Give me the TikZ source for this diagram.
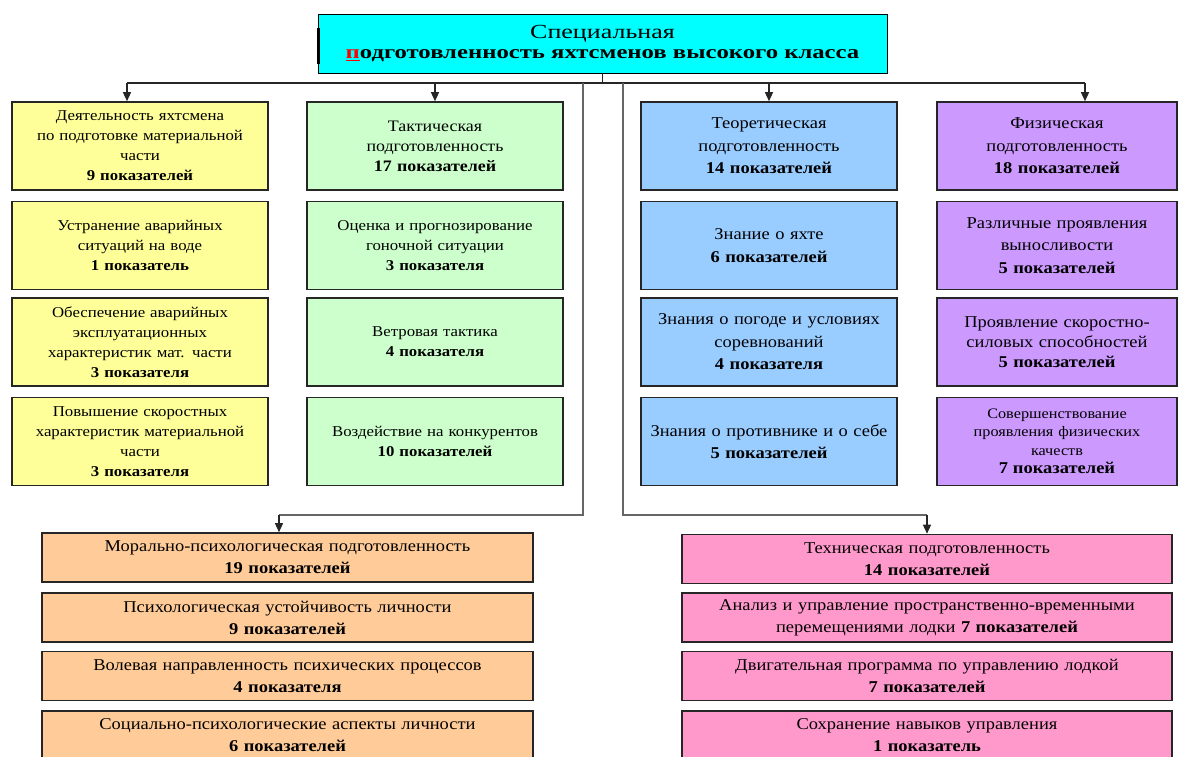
\documentclass[tikz,border=0pt]{standalone}
\usepackage{fontspec}
\setmainfont[FakeStretch=1.12]{Liberation Serif}
\newfontfamily\titlefont[FakeStretch=1.3]{Liberation Serif}
\usetikzlibrary{arrows.meta}
\definecolor{cyanbg}{HTML}{00FFFF}
\definecolor{yel}{HTML}{FFFF99}
\definecolor{grn}{HTML}{CCFFCC}
\definecolor{blu}{HTML}{99CCFF}
\definecolor{pur}{HTML}{CC99FF}
\definecolor{org}{HTML}{FFCC99}
\definecolor{pnk}{HTML}{FF99CC}
\begin{document}
\begin{tikzpicture}[x=1pt,y=-1pt,
  box/.style={draw=black!85, line width=1.6pt, align=center, inner sep=0pt, font=\fontsize{15}{20}\selectfont},
  ctop/.style={box, minimum width=256pt, minimum height=88pt, text width=252pt},
  rbox/.style={ctop, font=\fontsize{16.5}{22.5}\selectfont},
  pbox/.style={rbox, minimum width=240pt, text width=238pt},
  wide/.style={box, minimum width=491pt, minimum height=49pt, text width=487pt, font=\fontsize{16.5}{22}\selectfont},
  arr/.style={draw=black!85, line width=1.3pt, -{Triangle[length=9pt,width=8pt]}},
  conn/.style={draw=black!85, line width=1.3pt},
  gconn/.style={draw=black!60, line width=1.3pt},
]
\useasboundingbox (0,0) rectangle (1179,756);
\clip (0,0) rectangle (1179,756);

% title
\node[draw=black, line width=1pt, fill=cyanbg, minimum width=569pt, minimum height=59pt, align=center, inner sep=0pt,
  font=\titlefont\fontsize{20}{20.5}\selectfont] (title) at (602.5,43.5)
  {Специальная\\{\fontsize{19}{20}\selectfont\bfseries\textcolor{red}{\underline{п}}одготовленность яхтсменов высокого класса}};
\draw[line width=2.5pt] ([xshift=1pt,yshift=-14pt]title.north west) -- ([xshift=1pt,yshift=10pt]title.south west);

% column 1
\node[ctop, fill=yel] (a1) at (140,146) {Деятельность яхтсмена\\по подготовке материальной\\части\\\textbf{9 показателей}};
\node[ctop, fill=yel] (a2) at (140,245.5) {Устранение аварийных\\ситуаций на воде\\\textbf{1 показатель}};
\node[ctop, fill=yel] (a3) at (140,342) {Обеспечение аварийных\\эксплуатационных\\характеристик мат. части\\\textbf{3 показателя}};
\node[ctop, fill=yel] (a4) at (140,441.5) {Повышение скоростных\\характеристик материальной\\части\\\textbf{3 показателя}};

% column 2
\node[ctop, fill=grn, font=\fontsize{16}{20}\selectfont] (b1) at (435,146) {Тактическая\\подготовленность\\\textbf{17 показателей}};
\node[ctop, fill=grn] (b2) at (435,245.5) {Оценка и прогнозирование\\гоночной ситуации\\\textbf{3 показателя}};
\node[ctop, fill=grn] (b3) at (435,342) {Ветровая тактика\\\textbf{4 показателя}};
\node[ctop, fill=grn] (b4) at (435,441.5) {Воздействие на конкурентов\\\textbf{10 показателей}};

% column 3
\node[rbox, fill=blu] (c1) at (769,146) {Теоретическая\\подготовленность\\\textbf{14 показателей}};
\node[rbox, fill=blu] (c2) at (769,245.5) {Знание о яхте\\\textbf{6 показателей}};
\node[rbox, fill=blu] (c3) at (769,342) {Знания о погоде и условиях\\соревнований\\\textbf{4 показателя}};
\node[rbox, fill=blu] (c4) at (769,441.5) {Знания о противнике и о себе\\\textbf{5 показателей}};

% column 4
\node[pbox, fill=pur] (d1) at (1057,146) {Физическая\\подготовленность\\\textbf{18 показателей}};
\node[pbox, fill=pur] (d2) at (1057,245.5) {Различные проявления\\выносливости\\\textbf{5 показателей}};
\node[pbox, fill=pur, font=\fontsize{16.5}{20}\selectfont] (d3) at (1057,342) {Проявление скоростно-\\силовых способностей\\\textbf{5 показателей}};
\node[pbox, fill=pur, font=\fontsize{14.5}{18.5}\selectfont] (d4) at (1057,441.5) {Совершенствование\\проявления физических\\качеств\\{\fontsize{16.5}{20}\selectfont\textbf{7 показателей}}};

% bottom left
\node[wide, fill=org] (e1) at (287.5,557.5) {Морально-психологическая подготовленность\\\textbf{19 показателей}};
\node[wide, fill=org] (e2) at (287.5,617.5) {Психологическая устойчивость личности\\\textbf{9 показателей}};
\node[wide, fill=org] (e3) at (287.5,676) {Волевая направленность психических процессов\\\textbf{4 показателя}};
\node[wide, fill=org] (e4) at (287.5,735.5) {Социально-психологические аспекты личности\\\textbf{6 показателей}};

% bottom right
\node[wide, fill=pnk, minimum width=490pt] (f1) at (927,559) {Техническая подготовленность\\\textbf{14 показателей}};
\node[wide, fill=pnk, minimum width=490pt] (f2) at (927,617.5) {Анализ и управление пространственно-временными\\перемещениями лодки \textbf{7 показателей}};
\node[wide, fill=pnk, minimum width=490pt] (f3) at (927,676) {Двигательная программа по управлению лодкой\\\textbf{7 показателей}};
\node[wide, fill=pnk, minimum width=490pt] (f4) at (927,735.5) {Сохранение навыков управления\\\textbf{1 показатель}};

% connectors
\coordinate (hub) at (title.south |- 0,83);
\coordinate (j1) at (127,83);
\coordinate (j4) at (1085,83);
\coordinate (v1) at (583,83);
\coordinate (v2) at (623,83);
\coordinate (k1) at (583,515);
\coordinate (k2) at (623,515);
\coordinate (m1) at (279,515);
\coordinate (m2) at (f1.north |- 0,515);

\draw[conn] (title.south) -- (hub);
\draw[conn] (j1) -- (j4);
\draw[arr] (j1) -- (j1 |- a1.north);
\draw[arr] (b1.north |- hub) -- (b1.north);
\draw[arr] (c1.north |- hub) -- (c1.north);
\draw[arr] (j4) -- (j4 |- d1.north);
\draw[gconn] (v1) -- (k1) -- (m1);
\draw[arr] (m1) -- (m1 |- e1.north);
\draw[gconn] (v2) -- (k2) -- (m2);
\draw[arr] (m2) -- (f1.north);
\end{tikzpicture}
\end{document}
